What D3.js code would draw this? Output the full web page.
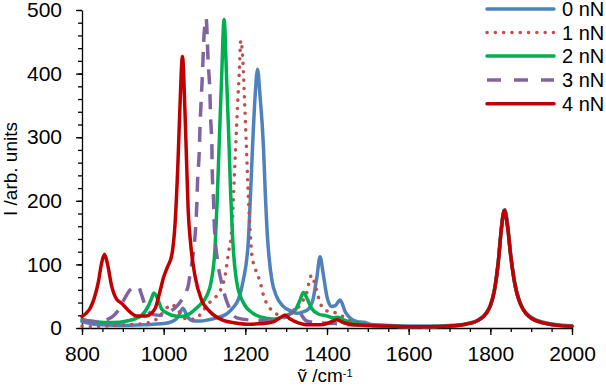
<!DOCTYPE html>
<html><head><meta charset="utf-8">
<script src="https://cdn.jsdelivr.net/npm/d3@7"></script>
<style>
body{margin:0;background:#fff}
svg{display:block}
text{font-family:"Liberation Sans",Arial,sans-serif;fill:#000}
</style>
</head><body>
<svg id="chart" width="606" height="387"></svg>
<script>
// ---- data ----
const xMajorTicks = [800, 1000, 1200, 1400, 1600, 1800, 2000];
const yMajorTicks = [0, 100, 200, 300, 400, 500];
const seriesNames = ["0 nN", "1 nN", "2 nN", "3 nN", "4 nN"];
const seriesColors = ["#4F81BD", "#C0504D", "#00B050", "#8064A2", "#C00000"];

const force0 = [[800,10],[820,7],[850,5],[900,4],[950,5],[1000,7],[1020,10],[1035,17],[1047,31],[1060,16],[1075,11],[1090,11],[1110,13],[1130,16],[1154,22],[1170,32],[1183,45],[1195,75],[1207,134],[1212,200],[1218,290],[1224,365],[1230,407],[1236,365],[1244,290],[1249,210],[1254,145],[1258,112],[1265,75],[1277,49],[1293,34],[1310,27],[1326,23],[1340,25],[1355,30],[1365,43],[1375,79],[1383,112],[1390,88],[1400,49],[1410,34],[1420,35],[1432,44],[1445,25],[1460,14],[1475,10],[1490,9],[1505,6],[1520,5],[1550,4],[1600,3],[1650,3],[1700,4],[1740,6.5],[1770,12.5],[1790,24],[1800,36],[1810,60],[1820,108],[1827,155],[1836,186],[1843,160],[1850,115],[1860,71],[1870,45],[1880,30],[1900,17],[1930,9],[1960,5.5],[2000,3.5]];

const force1 = [[800,3],[830,2],[860,3],[900,5],[950,7],[975,11],[990,18],[1005,30],[1020,37],[1035,28],[1050,16],[1060,13],[1080,15],[1097,28],[1118,44],[1138,58],[1150,81],[1158,115],[1168,165],[1173,238],[1177,295],[1181,350],[1185,400],[1189,452],[1194,420],[1198,360],[1202,295],[1207,212],[1212,150],[1216,115],[1225,92],[1236,73],[1246,48],[1256,35],[1268,26],[1280,21],[1295,20],[1310,22],[1322,27],[1338,40],[1350,55],[1362,83],[1370,70],[1379,48],[1387,34],[1399,27],[1420,24],[1436,19],[1452,13],[1473,9],[1500,5],[1550,3],[1600,2],[1650,2],[1700,3],[1740,6],[1770,12],[1790,23],[1800,35],[1810,59],[1820,107],[1826,150],[1834,185],[1842,160],[1850,113],[1860,69],[1870,44],[1880,29.5],[1900,15.5],[1930,8],[1960,4.5],[2000,2.6]];

const force2 = [[800,13],[832,10],[873,8.5],[913,11.5],[946,20],[962,34],[970,46],[976,55],[987,43],[995,30],[1010,23],[1020,20],[1044,18],[1060,21],[1073,27],[1090,37],[1105,50],[1117,75],[1126,128],[1131,200],[1136,290],[1142,395],[1148,485],[1154,395],[1160,290],[1164,212],[1169,140],[1179,72],[1195,40],[1219,23],[1240,17],[1265,14],[1285,16],[1301,20],[1322,28],[1334,44],[1342,56],[1350,48],[1362,31],[1379,22],[1399,19],[1415,16],[1427,17],[1440,13],[1460,8],[1480,6],[1500,5],[1550,3],[1600,2],[1650,2],[1700,3],[1740,6],[1770,12],[1790,23],[1800,35],[1810,59],[1820,107],[1826,150],[1834,185],[1842,160],[1850,113],[1860,69],[1870,44],[1880,29.5],[1900,15.5],[1930,8],[1960,4.5],[2000,2.6]];

const force3 = [[800,13],[832,10],[864,14],[889,28],[905,47],[918,60],[938,65],[946,52],[958,30],[975,21],[991,20],[1015,26],[1032,34],[1045,45],[1056,58],[1060,66],[1066,90],[1071,110],[1077,146],[1081,192],[1083,231],[1087,275],[1089,316],[1092,360],[1095,400],[1098,450],[1104,487],[1109,417],[1113,374],[1115,330],[1118,288],[1119,245],[1122,204],[1124,162],[1131,110],[1142,71],[1158,36],[1179,16],[1215,12.5],[1250,12],[1290,15],[1310,22],[1322,30],[1328,32],[1338,20],[1350,11],[1380,8],[1420,7],[1460,5],[1500,4],[1550,2.5],[1600,2],[1650,2],[1700,3],[1740,6],[1770,12],[1790,23],[1800,35],[1810,59],[1820,107],[1826,150],[1834,185],[1842,160],[1850,113],[1860,69],[1870,44],[1880,29.5],[1900,15.5],[1930,8],[1960,4.5],[2000,2.6]];

const force4 = [[800,18],[810,23],[820,31],[830,47],[840,72],[848,102],[855,116],[862,102],[873,65],[885,45],[897,39],[913,28],[934,19],[958,19],[970,23],[980,32],[990,55],[1000,80],[1010,97],[1020,115],[1028,165],[1035,260],[1040,350],[1046,427],[1052,343],[1056,264],[1060,186],[1066,133],[1077,81],[1093,44],[1113,26],[1146,12],[1175,8],[1203,6],[1244,7],[1270,10],[1285,16],[1297,20],[1310,14],[1330,8],[1350,5],[1383,5],[1400,7],[1415,11],[1424,13],[1435,10],[1448,7],[1470,5],[1500,4],[1550,3],[1600,2],[1650,2],[1700,3],[1740,6],[1770,12],[1790,23],[1800,35],[1810,59],[1820,107],[1826,150],[1834,185],[1842,160],[1850,113],[1860,69],[1870,44],[1880,29.5],[1900,15.5],[1930,8],[1960,4.5],[2000,2.6]];

const allSeries = [force0, force1, force2, force3, force4];
const dashes = [null, "0.1 8.2", null, "15 10", null];
const caps = ["round", "round", "round", "butt", "round"];

// ---- chart ----
const svg = d3.select("#chart");
const x = d3.scaleLinear().domain([800, 2000]).range([82, 572]);
const y = d3.scaleLinear().domain([0, 500]).range([328, 10]);

// minor ticks
svg.append("g").attr("transform", "translate(0,328)")
  .call(d3.axisBottom(x).tickValues(d3.range(800, 2001, 50)).tickSize(4).tickSizeOuter(0).tickFormat(""))
  .call(g => { g.select(".domain").remove(); g.selectAll("line").attr("stroke", "#000").attr("stroke-width", 1.3); });
svg.append("g").attr("transform", "translate(82,0)")
  .call(d3.axisLeft(y).tickValues(d3.range(0, 501, 20)).tickSize(4).tickSizeOuter(0).tickFormat(""))
  .call(g => { g.select(".domain").remove(); g.selectAll("line").attr("stroke", "#000").attr("stroke-width", 1.3); });

// major axes
const xa = svg.append("g").attr("transform", "translate(0,328)")
  .call(d3.axisBottom(x).tickValues(xMajorTicks).tickSize(7).tickSizeOuter(0).tickPadding(11).tickFormat(d3.format("d")));
const ya = svg.append("g").attr("transform", "translate(82,0)")
  .call(d3.axisLeft(y).tickValues(yMajorTicks).tickSize(6).tickSizeOuter(0).tickPadding(14).tickFormat(d3.format("d")));
[xa, ya].forEach(a => {
  a.select(".domain").attr("stroke", "#000").attr("stroke-width", 1.3);
  a.selectAll("line").attr("stroke", "#000").attr("stroke-width", 1.3);
  a.selectAll("text").attr("font-size", 21).attr("font-family", '"Liberation Sans",Arial,sans-serif').attr("fill", "#000");
});

// lines
const line = d3.line().x(d => x(d[0])).y(d => y(d[1])).curve(d3.curveMonotoneX);
allSeries.forEach((s, i) => {
  svg.append("path").datum(s)
    .attr("d", line)
    .attr("fill", "none")
    .attr("stroke", seriesColors[i])
    .attr("stroke-width", 3.5)
    .attr("stroke-linecap", caps[i])
    .attr("stroke-linejoin", "round")
    .attr("stroke-dasharray", dashes[i]);
});

// axis titles
svg.append("text").attr("x", 325).attr("y", 382).attr("text-anchor", "middle").attr("font-size", 19)
  .text("ṽ /cm").append("tspan").attr("dy", -5).attr("font-size", 11).text("-1");
svg.append("text").attr("transform", "translate(17,169) rotate(-90)").attr("text-anchor", "middle").attr("font-size", 19)
  .text("I /arb. units");

// legend
const legY = [9, 32.5, 56, 80, 103.7];
seriesNames.forEach((n, i) => {
  svg.append("line").attr("x1", 487).attr("x2", 554).attr("y1", legY[i]).attr("y2", legY[i])
    .attr("stroke", seriesColors[i]).attr("stroke-width", 3.5)
    .attr("stroke-linecap", caps[i])
    .attr("stroke-dasharray", i === 3 ? "14 13" : dashes[i]);
  svg.append("text").attr("x", 562).attr("y", legY[i]).attr("dy", "0.36em").attr("font-size", 20).text(n);
});
</script>
</body></html>
